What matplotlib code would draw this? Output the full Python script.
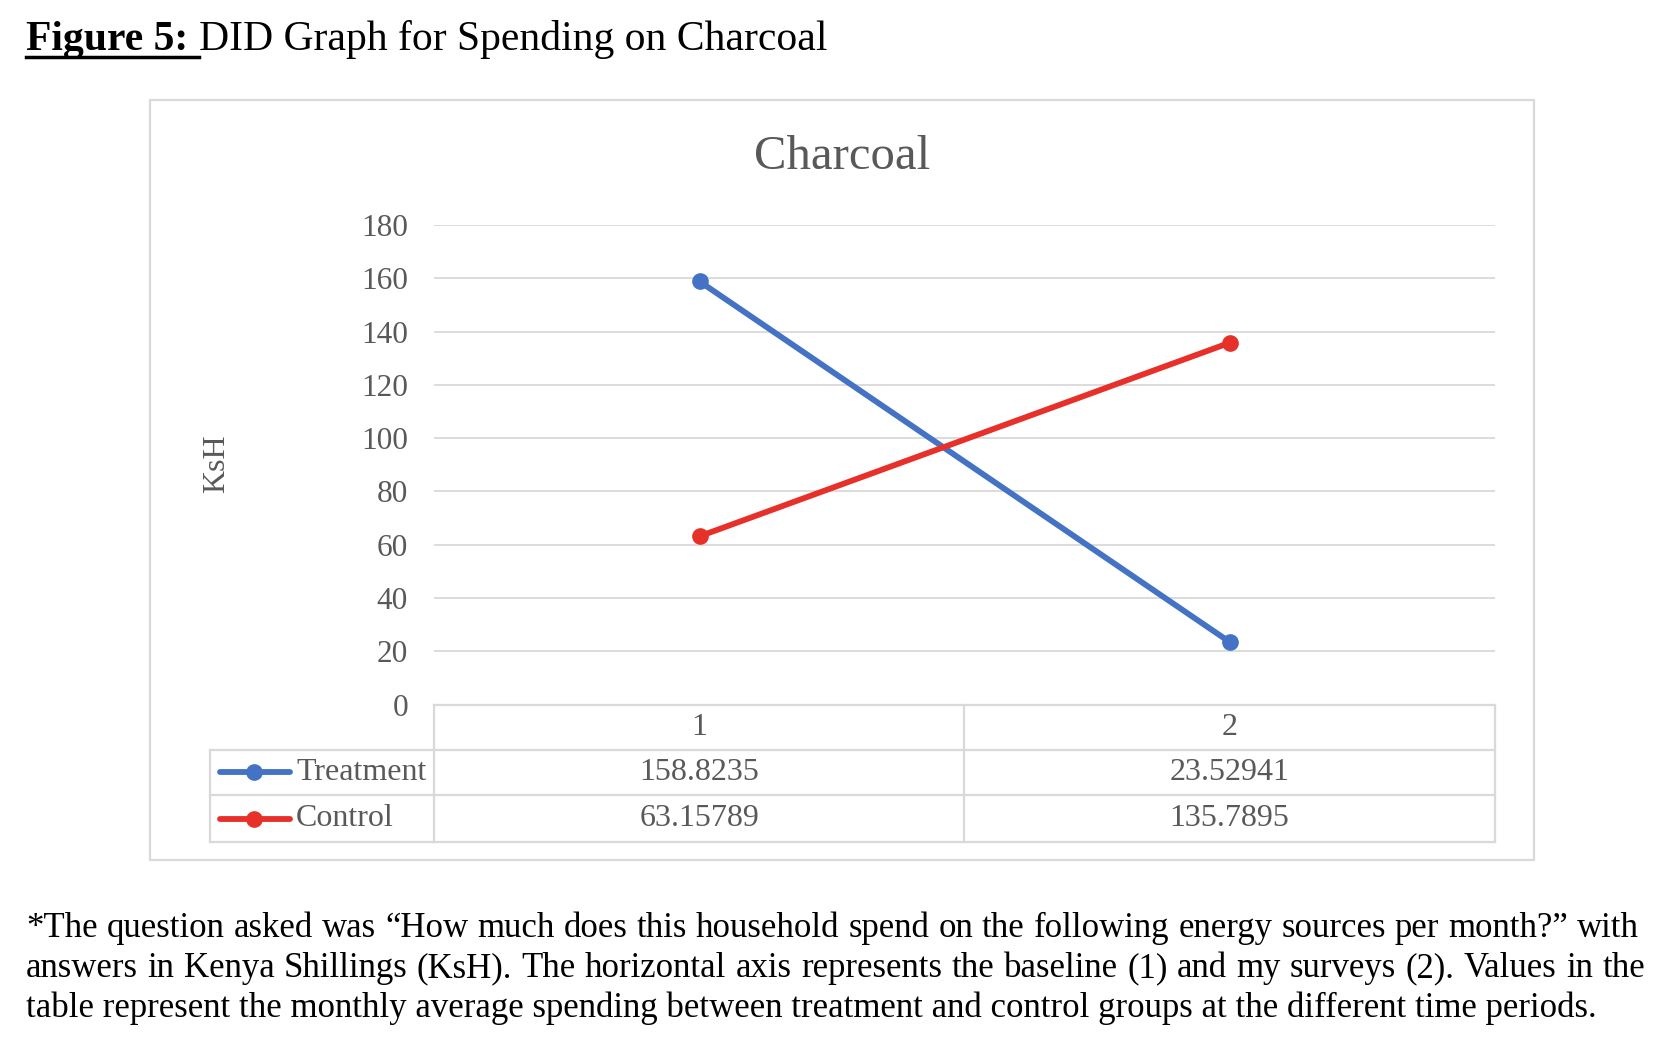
import matplotlib
matplotlib.use("Agg")
import matplotlib.pyplot as plt
from matplotlib.lines import Line2D

plt.rcParams['font.family'] = ['Liberation Serif', 'DejaVu Serif']

# data
periods = ["1", "2"]
series_names = ["Treatment", "Control"]
treatment = [158.8235, 23.52941]
control = [63.15789, 135.7895]
y_ticks = [0, 20, 40, 60, 80, 100, 120, 140, 160, 180]
colors = ["#4472C4", "#E8302A"]

W, H = 1674, 1042
GRID = "#d9d9d9"
GRAY = "#595959"


def fx(x):
    return x / W


def fy(y):
    return 1 - y / H


fig = plt.figure(figsize=(W / 100, H / 100), dpi=100)
r = fig.canvas.get_renderer()

# chart frame
fig.add_artist(plt.Rectangle((fx(150), fy(860)), fx(1534) - fx(150), fy(100) - fy(860),
                             transform=fig.transFigure, fill=False, ec=GRID, lw=1.6))

# plot area
left, right, top, bottom = 434.5, 1494.6, 225, 704.6
ax = fig.add_axes([fx(left), fy(bottom), fx(right) - fx(left), fy(top) - fy(bottom)])
x = list(range(1, len(periods) + 1))
for vals, c in zip([treatment, control], colors):
    ax.plot(x, vals, color=c, lw=4.2, marker='o', ms=11, solid_capstyle='round', zorder=3)
ax.set_xlim(0.5, len(periods) + 0.5)
ax.set_ylim(0, 180)
ax.set_yticks(y_ticks)
ax.set_xticks([])
ax.tick_params(axis='y', length=0, pad=19, labelsize=22.5, labelcolor=GRAY)
ax.grid(axis='y', color=GRID, lw=1.3)
for s in ax.spines.values():
    s.set_visible(False)
ax.set_facecolor('none')

fig.text(fx(842), fy(157), "Charcoal", fontsize=35, color=GRAY, ha='center', va='center')
fig.text(fx(217), fy(464), "KsH", fontsize=23, color=GRAY, rotation=90, ha='center', va='center')

# data table
row_y = [704.6, 749.5, 795.4, 842.3]
col_x = [210.3, 434.5, 964.0, 1494.6]
def hline(y, x0, x1):
    fig.add_artist(Line2D([fx(x0), fx(x1)], [fy(y), fy(y)], transform=fig.transFigure, color=GRID, lw=1.6))
def vline(xx, y0, y1):
    fig.add_artist(Line2D([fx(xx), fx(xx)], [fy(y0), fy(y1)], transform=fig.transFigure, color=GRID, lw=1.6))

hline(row_y[0], col_x[1], col_x[3])
for yy in row_y[1:]:
    hline(yy, col_x[0], col_x[3])
vline(col_x[0], row_y[1], row_y[3])
for xx in col_x[1:]:
    vline(xx, row_y[0], row_y[3])

for i, p in enumerate(periods):
    cx = (col_x[1 + i] + col_x[2 + i]) / 2
    fig.text(fx(cx), fy((row_y[0] + row_y[1]) / 2), p, fontsize=23, color=GRAY, ha='center', va='center')

for j, (name, vals, c) in enumerate(zip(series_names, [treatment, control], colors)):
    yc = (row_y[1 + j] + row_y[2 + j]) / 2
    fig.add_artist(Line2D([fx(220), fx(290)], [fy(yc), fy(yc)], transform=fig.transFigure,
                          color=c, lw=4.2, solid_capstyle='round'))
    fig.add_artist(Line2D([fx(254)], [fy(yc)], transform=fig.transFigure, color=c,
                          marker='o', ms=11, lw=0))
    fig.text(fx(296), fy(yc), name, fontsize=23, color=GRAY, ha='left', va='center')
    for i, v in enumerate(vals):
        cx = (col_x[1 + i] + col_x[2 + i]) / 2
        fig.text(fx(cx), fy(yc), f"{v:.7g}", fontsize=23, color=GRAY, ha='center', va='center')

# figure heading
HS = 30
t1 = fig.text(fx(26), fy(50), "Figure 5:", fontsize=HS, fontweight='bold', va='baseline')
w1 = t1.get_window_extent(r).width
sp = fig.text(0, 0, "a a", fontsize=HS).get_window_extent(r).width - \
    2 * fig.text(0, 0, "a", fontsize=HS).get_window_extent(r).width
for t in fig.texts[-2:]:
    t.remove()
fig.add_artist(Line2D([fx(26), fx(26 + w1 + sp)], [fy(57), fy(57)], transform=fig.transFigure,
                      color='black', lw=2.5))
fig.text(fx(26 + w1 + sp), fy(50), "DID Graph for Spending on Charcoal", fontsize=HS, va='baseline')

# footnote
note = ["*The question asked was \u201cHow much does this household spend on the following energy sources per month?\u201d with",
        "answers in Kenya Shillings (KsH). The horizontal axis represents the baseline (1) and my surveys (2). Values in the",
        "table represent the monthly average spending between treatment and control groups at the different time periods."]
base = [937, 977, 1017]


def justify(line, yb, x0, x1, size):
    words = line.split()
    ts = [fig.text(0, fy(yb), w, fontsize=size, va='baseline') for w in words]
    ws = [t.get_window_extent(r).width for t in ts]
    gap = (x1 - x0 - sum(ws)) / (len(words) - 1)
    xx = x0
    for t, w in zip(ts, ws):
        t.set_x(fx(xx))
        xx += w + gap


justify(note[0], base[0], 26, 1639, 25)
justify(note[1], base[1], 26, 1645, 25)
fig.text(fx(26), fy(base[2]), note[2], fontsize=25, va='baseline')

fig.savefig("out.png", dpi=100)
